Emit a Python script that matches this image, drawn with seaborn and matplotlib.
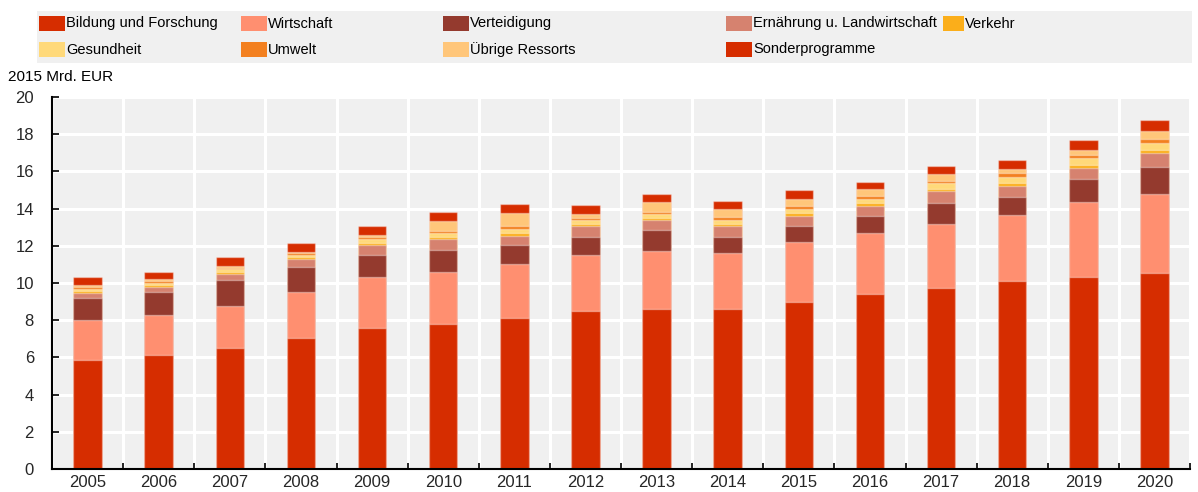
import matplotlib
matplotlib.use("Agg")
import numpy as np
import pandas as pd
import seaborn as sns
from matplotlib import pyplot as plt
from matplotlib.patches import Rectangle

years = [str(y) for y in range(2005, 2021)]

series_names = [
    "Bildung und Forschung",
    "Wirtschaft",
    "Verteidigung",
    "Ernährung u. Landwirtschaft",
    "Verkehr",
    "Gesundheit",
    "Umwelt",
    "Übrige Ressorts",
    "Sonderprogramme",
]

# 2015 Mrd. EUR
bildung = [5.86, 6.15, 6.50, 7.06, 7.60, 7.81, 8.14, 8.48, 8.62, 8.60, 9.00, 9.43, 9.75, 10.09, 10.32, 10.55]
wirtschaft = [2.14, 2.15, 2.28, 2.47, 2.72, 2.76, 2.88, 3.01, 3.10, 3.00, 3.19, 3.28, 3.44, 3.57, 4.03, 4.22]
verteidigung = [1.21, 1.23, 1.40, 1.35, 1.20, 1.20, 1.02, 0.97, 1.15, 0.89, 0.89, 0.87, 1.13, 0.98, 1.22, 1.47]
ernaehrung = [0.25, 0.25, 0.32, 0.41, 0.54, 0.60, 0.50, 0.59, 0.53, 0.56, 0.54, 0.58, 0.65, 0.59, 0.63, 0.75]
verkehr = [0.10, 0.10, 0.10, 0.10, 0.10, 0.11, 0.16, 0.14, 0.11, 0.14, 0.14, 0.13, 0.11, 0.14, 0.14, 0.16]
gesundheit = [0.14, 0.14, 0.14, 0.13, 0.20, 0.20, 0.22, 0.18, 0.22, 0.20, 0.22, 0.25, 0.27, 0.34, 0.36, 0.36]
umwelt = [0.07, 0.08, 0.08, 0.09, 0.12, 0.12, 0.14, 0.13, 0.11, 0.16, 0.16, 0.16, 0.16, 0.20, 0.20, 0.23]
uebrige = [0.10, 0.09, 0.09, 0.06, 0.09, 0.54, 0.73, 0.23, 0.50, 0.43, 0.38, 0.34, 0.34, 0.23, 0.25, 0.41]
sonder = [0.45, 0.39, 0.47, 0.47, 0.47, 0.48, 0.45, 0.47, 0.45, 0.45, 0.48, 0.39, 0.43, 0.47, 0.54, 0.63]

series_values = [bildung, wirtschaft, verteidigung, ernaehrung, verkehr,
                 gesundheit, umwelt, uebrige, sonder]

colors = ["#d62d00", "#ff8f70", "#943a2e", "#d6826f", "#fbae1a",
          "#ffd97a", "#f38020", "#ffc67a", "#d62d00"]

BG = "#f0f0f0"


def draw_legend(fig):
    W, H = 1198, 492
    # grey band behind the legend
    fig.patches.append(Rectangle((37 / W, 1 - 63 / H), (1192 - 37) / W, 52 / H,
                                 transform=fig.transFigure, facecolor=BG,
                                 edgecolor="none", zorder=0))
    # (x of patch, row) for each entry, in pixels
    slots = [(39, 0), (241, 0), (443, 0), (726, 0), (943, 0),
             (39, 1), (241, 1), (443, 1), (726, 1)]
    for i, (px, row) in enumerate(slots):
        cy = 23.5 if row == 0 else 49.5
        pw = 26 if i != 4 else 21
        fig.patches.append(Rectangle((px / W, 1 - (cy + 7.5) / H), pw / W, 15 / H,
                                     transform=fig.transFigure, facecolor=colors[i],
                                     edgecolor="none", zorder=1))
        fig.text((px + pw + 1) / W, 1 - cy / H, series_names[i], ha="left",
                 va="center", fontsize=10.5, color="black")


def main():
    sns.set_theme(style="white")
    plt.rcParams["font.family"] = ["Liberation Sans", "DejaVu Sans"]

    fig = plt.figure(figsize=(11.98, 4.92), dpi=100)
    ax = fig.add_axes([52 / 1198, 23 / 492, 1138 / 1198, 372 / 492])
    ax.set_facecolor(BG)

    stack = np.cumsum(np.array(series_values), axis=0)
    df = pd.DataFrame(stack.T, columns=series_names)
    df["year"] = years

    # layered cumulative bars, tallest first
    for i in reversed(range(len(series_names))):
        sns.barplot(data=df, x="year", y=series_names[i], order=years,
                    color=colors[i], saturation=1, width=0.4, errorbar=None,
                    edgecolor=(1, 1, 1, 0.35), linewidth=1, ax=ax)

    ax.set_xlabel("")
    ax.set_ylabel("")
    ax.set_ylim(0, 20)
    ax.set_xlim(-0.5, -0.5 + 1138 / 72.3)
    ax.set_yticks(range(0, 21, 2))

    ax.set_axisbelow(True)
    ax.set_xticks(np.arange(-0.5, 16, 1), minor=True)
    ax.yaxis.grid(True, color="white", linewidth=2.2)
    ax.xaxis.grid(True, which="minor", color="white", linewidth=2.2)
    ax.xaxis.grid(False, which="major")

    ax.tick_params(axis="x", which="major", length=0, pad=4, labelsize=12)
    ax.tick_params(axis="x", which="minor", direction="in", length=4.5, width=1.2,
                   color="black", bottom=True)
    ax.tick_params(axis="y", direction="in", length=5, width=1.2, pad=13,
                   labelsize=12, color="black", left=True)

    for s in ["top", "right"]:
        ax.spines[s].set_visible(False)
    for s in ["left", "bottom"]:
        ax.spines[s].set_color("black")
        ax.spines[s].set_linewidth(1.5)

    fig.text(8 / 1198, 1 - 77 / 492, "2015 Mrd. EUR", ha="left", va="center",
             fontsize=11, color="black")

    draw_legend(fig)

    fig.savefig("out.png", dpi=100)


if __name__ == "__main__":
    main()
